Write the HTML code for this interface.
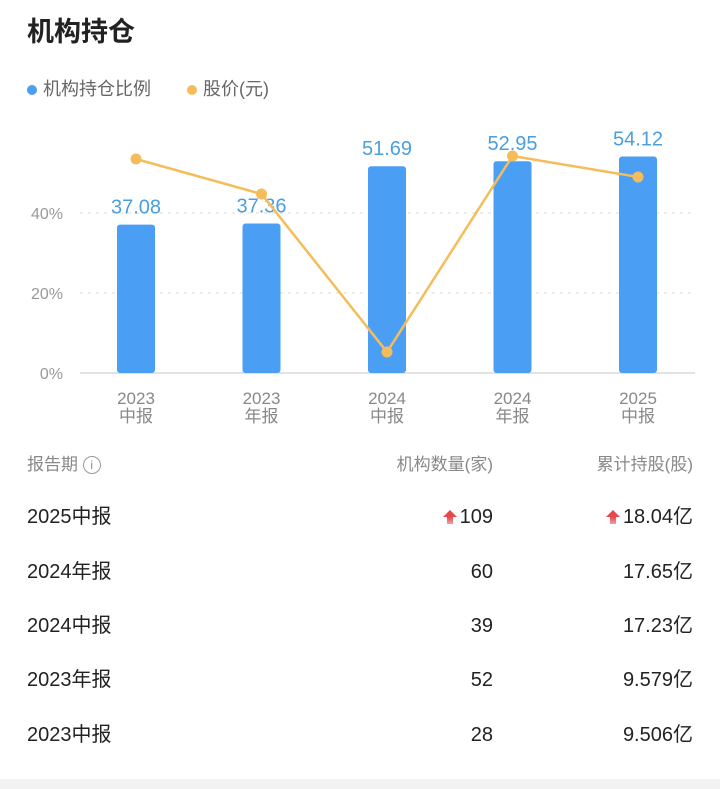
<!DOCTYPE html>
<html><head><meta charset="utf-8"><style>
body{margin:0;width:720px;height:789px;background:#fff;font-family:"Liberation Sans","Noto Sans CJK SC",sans-serif;position:relative;overflow:hidden}
.t{position:absolute;white-space:nowrap}
.row{position:absolute;left:0;width:720px;height:30px;font-size:20px;color:#222;line-height:30px}
.row>span{position:absolute;top:0;height:30px;line-height:30px;display:flex;align-items:center}
.up{display:inline-block;width:14px;height:14px;position:relative;margin-right:3px}
.up:before{content:"";position:absolute;left:0;top:0;border-left:7px solid transparent;border-right:7px solid transparent;border-bottom:7px solid #e5484d}
.up:after{content:"";position:absolute;left:4px;top:7px;width:6px;height:7px;background:linear-gradient(#e5484d,#f2a0a2)}
</style></head><body>
<div class="t" style="left:27px;top:10px;font-size:27px;font-weight:bold;color:#222">机构持仓</div>
<div class="t" style="left:27px;top:75px;font-size:18px;color:#666"><span style="display:inline-block;width:10px;height:10px;border-radius:5px;background:#4a9ff5;margin-right:6px"></span>机构持仓比例</div>
<div class="t" style="left:187px;top:75px;font-size:18px;color:#666"><span style="display:inline-block;width:10px;height:10px;border-radius:5px;background:#f5bd5a;margin-right:6px"></span>股价(元)</div>
<svg id="chart" width="720" height="440" style="position:absolute;left:0;top:0" font-family="Liberation Sans, Noto Sans CJK SC, sans-serif"></svg>

<div class="row" style="top:450px;font-size:17px;color:#888">
<span style="left:27px">报告期&nbsp;<span style="display:inline-block;width:16px;height:16px;border:1.5px solid #999;border-radius:50%;font-size:12px;text-align:center;line-height:16px">i</span></span>
<span style="right:227px">机构数量(家)</span><span style="right:27px">累计持股(股)</span></div>
<div class="row" style="top:502px"><span style="left:27px">2025中报</span><span style="right:227px"><i class="up"></i>109</span><span style="right:27px"><i class="up"></i>18.04亿</span></div>
<div class="row" style="top:557px"><span style="left:27px">2024年报</span><span style="right:227px">60</span><span style="right:27px">17.65亿</span></div>
<div class="row" style="top:611px"><span style="left:27px">2024中报</span><span style="right:227px">39</span><span style="right:27px">17.23亿</span></div>
<div class="row" style="top:665px"><span style="left:27px">2023年报</span><span style="right:227px">52</span><span style="right:27px">9.579亿</span></div>
<div class="row" style="top:720px"><span style="left:27px">2023中报</span><span style="right:227px">28</span><span style="right:27px">9.506亿</span></div>
<div style="position:absolute;left:0;top:779px;width:720px;height:10px;background:#f2f2f2"></div>
<script>
const years=["2023","2023","2024","2024","2025"];
const periods=["中报","年报","中报","年报","中报"];
const holding=[37.08,37.36,51.69,52.95,54.12];
const price=[10.7,8.95,1.05,10.85,9.8];
const yTicks=[0,20,40];
const NS="http://www.w3.org/2000/svg";
const svg=document.getElementById('chart');
const base=373;
const y=v=>base-v*4;
const yp=p=>base-p*20;
const x=i=>136+i*125.5;
function mk(t,a,txt){const e=document.createElementNS(NS,t);for(const k in a)e.setAttribute(k,a[k]);if(txt!==undefined)e.textContent=txt;svg.appendChild(e);return e;}
yTicks.forEach(v=>{
 const l=mk('line',{x1:80,x2:695,y1:y(v),y2:y(v),stroke:v?'#e6e6e6':'#e3e3e3','stroke-width':v?1.5:2,'stroke-dasharray':v?'3,5':''});
 
 
 const t=mk('text',{x:63,y:y(v)+6,'text-anchor':'end','font-size':16,fill:'#999'},v+'%');
 
 
});
holding.forEach((v,i)=>{
 const r=mk('rect',{x:x(i)-19,y:y(v),width:38,height:base-y(v),rx:3,fill:'#4a9ff5'});
 
 
 const t=mk('text',{x:x(i),y:y(v)-11,'text-anchor':'middle','font-size':20,fill:'#4a9fe0'},v.toFixed(2));
 
 
 const a=mk('text',{x:x(i),y:404,'text-anchor':'middle','font-size':17,fill:'#888'},years[i]);
 
 
 const b=mk('text',{x:x(i),y:422,'text-anchor':'middle','font-size':17,fill:'#888'},periods[i]);
 
 
});
const pl=mk('polyline',{points:price.map((p,i)=>x(i)+','+yp(p)).join(' '),fill:'none',stroke:'#f5bd5a','stroke-width':2.5});


price.forEach((p,i)=>{
 const c=mk('circle',{cx:x(i),cy:yp(p),r:5.5,fill:'#f5bd5a'});
 
 
});
</script>
</body></html>
